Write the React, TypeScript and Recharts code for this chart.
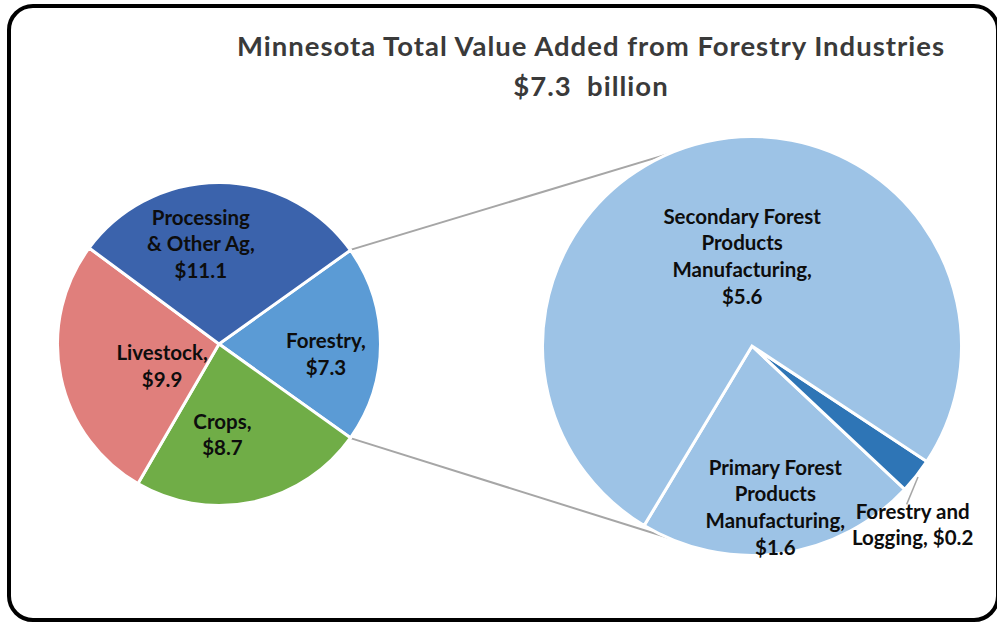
import React from 'react';
import { PieChart, Pie, Cell, Customized } from 'recharts';

// ---- data ----
const mainCategories = ['Forestry', 'Crops', 'Livestock', 'Processing & Other Ag'];
const mainValues = [7.3, 8.7, 9.9, 11.1];
const mainLabelLines = [['Forestry,', '{v}'], ['Crops,', '{v}'], ['Livestock,', '{v}'], ['Processing', '& Other Ag,', '{v}']];

const subCategories = ['Primary Forest Products Manufacturing', 'Forestry and Logging', 'Secondary Forest Products Manufacturing'];
const subValues = [1.6, 0.2, 5.6];
const subLabelLines = [
  ['Primary Forest', 'Products', 'Manufacturing,', '{v}'],
  ['Forestry and', 'Logging, {v}'],
  ['Secondary Forest', 'Products', 'Manufacturing,', '{v}'],
];

const titleLines = ['Minnesota Total Value Added from Forestry Industries', '$7.3  billion'];

// ---- styles / layout ----
const mainColors = ['#5b9bd5', '#70ad47', '#e07f7c', '#3b63ac'];
const subColors = ['#9dc3e6', '#2e75b6', '#9dc3e6'];

const W = 997;
const H = 623;
const L_CX = 219, L_CY = 344, L_R = 161.5;
const R_CX = 752, R_CY = 346, R_R = 209.5;
const SUB_START = -121;

const FONT = 'Lato, "Open Sans", sans-serif';
const LABEL_FS = 20.5;
const LINE_H = 26.7;
const RAD = Math.PI / 180;

// label placement tweaks (relative to 0.6R on the slice's mid angle)
const mainLabelOffsets = [[10, 10], [-17, -4], [38, 3], [-19, -3]];
const subLabelOffsets = [[6, 37], [62, 101], [18, 33]];

const mainTotal = mainValues.reduce((a, b) => a + b, 0);
const MAIN_START = (mainValues[0] / mainTotal) * 180;

const mainData = mainCategories.map((name, i) => ({ name, value: mainValues[i] }));
const subData = subCategories.map((name, i) => ({ name, value: subValues[i] }));

const fmt = (v: number) => `$${v.toFixed(1)}`;

function textBlock(cx: number, cy: number, lines: string[]) {
  const n = lines.length;
  return (
    <text textAnchor="middle" fontFamily={FONT} fontWeight={700} fontSize={LABEL_FS} fill="#0d0d0d">
      {lines.map((l, i) => (
        <tspan key={i} x={cx} y={cy + (i - (n - 1) / 2) * LINE_H + 0.35 * LABEL_FS}>
          {l}
        </tspan>
      ))}
    </text>
  );
}

const mainLabel = (p: any) => {
  const { cx, cy, midAngle, outerRadius, index } = p;
  const r = outerRadius * 0.6;
  const x = cx + r * Math.cos(-midAngle * RAD) + mainLabelOffsets[index][0];
  const y = cy + r * Math.sin(-midAngle * RAD) + mainLabelOffsets[index][1];
  const lines = mainLabelLines[index].map((s) => s.replace('{v}', fmt(mainValues[index])));
  return <g key={`ml${index}`}>{textBlock(x, y, lines)}</g>;
};

const subLabel = (p: any) => {
  const { cx, cy, midAngle, outerRadius, index } = p;
  const r = outerRadius * 0.6;
  const x = cx + r * Math.cos(-midAngle * RAD) + subLabelOffsets[index][0];
  const y = cy + r * Math.sin(-midAngle * RAD) + subLabelOffsets[index][1];
  const lines = subLabelLines[index].map((s) => s.replace('{v}', fmt(subValues[index])));
  let leader = null;
  if (index === 1) {
    const ex = cx + (outerRadius + 2) * Math.cos(-midAngle * RAD);
    const ey = cy + (outerRadius + 2) * Math.sin(-midAngle * RAD);
    const tx = x - 6;
    const ty = y - LINE_H / 2 - LABEL_FS * 0.35;
    leader = <line x1={ex} y1={ey} x2={tx} y2={ty} stroke="#a6a6a6" strokeWidth={1.5} />;
  }
  return (
    <g key={`sl${index}`}>
      {leader}
      {textBlock(x, y, lines)}
    </g>
  );
};

function tangentPoint(px: number, py: number, cx: number, cy: number, r: number, sign: number) {
  const dx = px - cx;
  const dy = py - cy;
  const d = Math.hypot(dx, dy);
  const base = Math.atan2(dy, dx);
  const a = Math.acos(r / d);
  const t = base + sign * a;
  return [cx + r * Math.cos(t), cy + r * Math.sin(t)];
}

const Decorations = () => {
  const vis = R_R - 1.5;
  const a1 = MAIN_START * RAD;
  const p1x = L_CX + (L_R + 1) * Math.cos(-a1);
  const p1y = L_CY + (L_R + 1) * Math.sin(-a1);
  const p2x = L_CX + (L_R + 1) * Math.cos(a1);
  const p2y = L_CY + (L_R + 1) * Math.sin(a1);
  const t1 = tangentPoint(p1x, p1y, R_CX, R_CY, vis, 1);
  const t2 = tangentPoint(p2x, p2y, R_CX, R_CY, vis, -1);
  return (
    <g>
      <line x1={p1x} y1={p1y} x2={t1[0]} y2={t1[1]} stroke="#a6a6a6" strokeWidth={2} />
      <line x1={p2x} y1={p2y} x2={t2[0]} y2={t2[1]} stroke="#a6a6a6" strokeWidth={2} />
      <text
        textAnchor="middle"
        fontFamily={FONT}
        fontWeight={700}
        fontSize={27.5}
        letterSpacing={1}
        fill="#3a3a3a"
        style={{ whiteSpace: 'pre' }}
      >
        <tspan x={591} y={56}>{titleLines[0]}</tspan>
        <tspan x={591} y={96}>{titleLines[1]}</tspan>
      </text>
    </g>
  );
};

export default function App() {
  return (
    <div style={{ position: 'absolute', left: 0, top: 0, width: W, height: H, background: '#fff', overflow: 'hidden' }}>
      <div style={{ position: 'absolute', left: 0, top: 0 }}>
        <PieChart width={W} height={H} margin={{ top: 0, right: 0, bottom: 0, left: 0 }}>
          <Customized component={Decorations} />
          <Pie
            data={mainData}
            dataKey="value"
            nameKey="name"
            cx={L_CX}
            cy={L_CY}
            outerRadius={L_R}
            startAngle={MAIN_START}
            endAngle={MAIN_START - 360}
            stroke="#ffffff"
            strokeWidth={3}
            label={mainLabel}
            labelLine={false}
            isAnimationActive={false}
          >
            {mainData.map((d, i) => (
              <Cell key={d.name} fill={mainColors[i]} />
            ))}
          </Pie>
          <Pie
            data={subData}
            dataKey="value"
            nameKey="name"
            cx={R_CX}
            cy={R_CY}
            outerRadius={R_R}
            startAngle={SUB_START}
            endAngle={SUB_START + 360}
            stroke="#ffffff"
            strokeWidth={3}
            label={subLabel}
            labelLine={false}
            isAnimationActive={false}
          >
            {subData.map((d, i) => (
              <Cell key={d.name} fill={subColors[i]} />
            ))}
          </Pie>
        </PieChart>
      </div>
      <div
        style={{
          position: 'absolute',
          left: 7,
          top: 4,
          width: 993,
          height: 618,
          boxSizing: 'border-box',
          border: '4px solid #000',
          borderRadius: 26,
          pointerEvents: 'none',
        }}
      />
    </div>
  );
}
